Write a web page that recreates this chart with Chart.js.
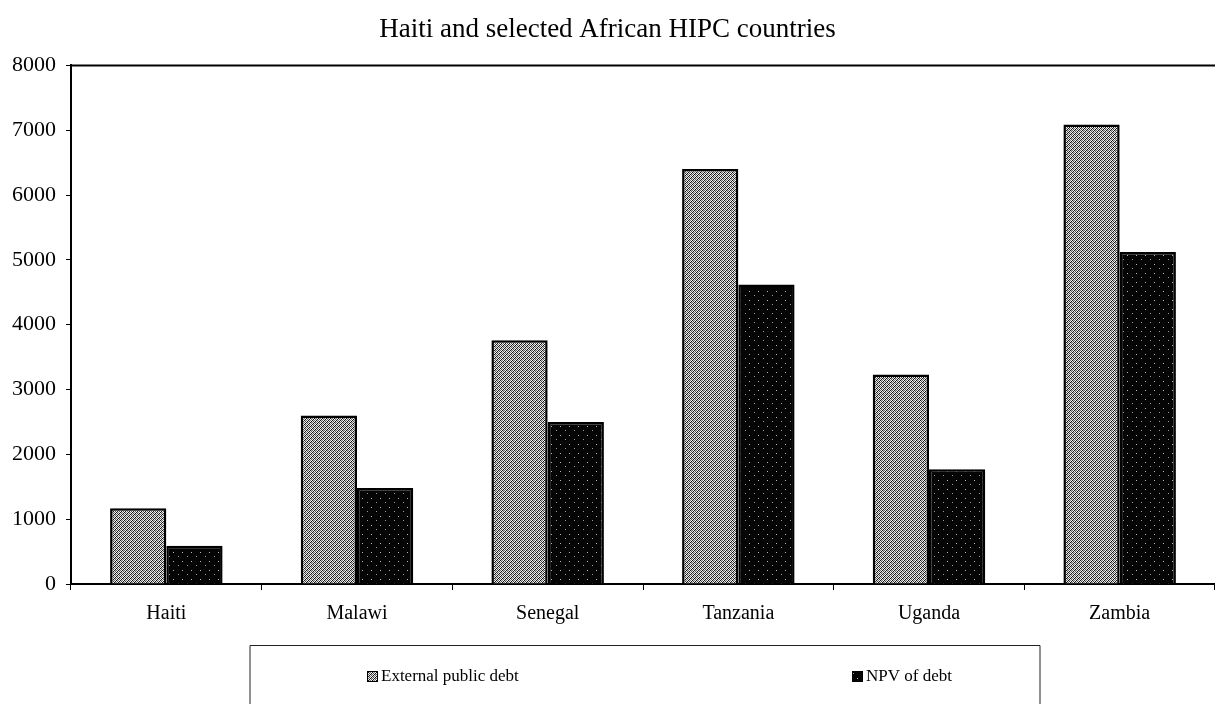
<!DOCTYPE html>
<html>
<head>
<meta charset="utf-8">
<script src="https://cdn.jsdelivr.net/npm/chart.js@4.4.1/dist/chart.umd.min.js"></script>
<style>
  html, body { margin: 0; padding: 0; background: #ffffff; }
  #wrap { position: relative; width: 1215px; height: 704px; }
</style>
</head>
<body>
<div id="wrap"><canvas id="chart" width="1215" height="704"></canvas></div>
<script>
// Debt stock, millions of US$
const countries = ['Haiti', 'Malawi', 'Senegal', 'Tanzania', 'Uganda', 'Zambia'];
const externalPublicDebt = [1170, 2600, 3760, 6400, 3230, 7090];
const npvOfDebt = [590, 1480, 2500, 4620, 1770, 5120];
const yTicks = [0, 1000, 2000, 3000, 4000, 5000, 6000, 7000, 8000];
const titleText = 'Haiti and selected African HIPC countries';
const seriesNames = ['External public debt', 'NPV of debt'];

const SERIF = '"Liberation Serif", "Times New Roman", serif';

// Halftone-style fills for the two series
function makePattern(size, bg, dots) {
  const c = document.createElement('canvas');
  c.width = size; c.height = size;
  const g = c.getContext('2d');
  g.fillStyle = bg;
  g.fillRect(0, 0, size, size);
  dots.forEach(([x, y, col]) => { g.fillStyle = col; g.fillRect(x, y, 1, 1); });
  return g.createPattern(c, 'repeat');
}
const ctx = document.getElementById('chart').getContext('2d');
const greyDither = makePattern(4, '#f4f4f4', [
  [0, 0, '#111'], [2, 0, '#777'], [1, 1, '#444'], [3, 1, '#111'],
  [0, 2, '#666'], [2, 2, '#111'], [1, 3, '#111'], [3, 3, '#555'],
  [1, 0, '#ccc'], [3, 2, '#bbb']
]);
const blackSpeck = makePattern(9, '#050505', [
  [2, 3, '#bbb'], [7, 7, '#999']
]);

// Plot frame top line and the boxed legend under the axis
const framePlugin = {
  id: 'frame',
  afterDraw(chart) {
    const { ctx, chartArea } = chart;
    ctx.save();
    ctx.strokeStyle = '#000';
    ctx.lineWidth = 2;
    ctx.beginPath();
    ctx.moveTo(chartArea.left, chartArea.top);
    ctx.lineTo(chartArea.right, chartArea.top);
    ctx.stroke();

    // legend box
    ctx.lineWidth = 1;
    ctx.strokeStyle = '#222';
    ctx.beginPath();
    ctx.moveTo(250, 720); ctx.lineTo(250, 645.5); ctx.lineTo(1040, 645.5); ctx.lineTo(1040, 720);
    ctx.stroke();

    const items = [
      { x: 367, ds: chart.data.datasets[0] },
      { x: 852, ds: chart.data.datasets[1] }
    ];
    ctx.font = '17px ' + SERIF;
    ctx.textBaseline = 'middle';
    items.forEach(it => {
      ctx.fillStyle = it.ds.backgroundColor;
      ctx.fillRect(it.x, 671, 11, 11);
      ctx.strokeStyle = '#000';
      ctx.strokeRect(it.x + 0.5, 671.5, 10, 10);
      ctx.fillStyle = '#000';
      ctx.fillText(it.ds.label, it.x + 14, 677);
    });
    ctx.restore();
  }
};

new Chart(ctx, {
  type: 'bar',
  data: {
    labels: countries,
    datasets: [
      {
        label: seriesNames[0],
        data: externalPublicDebt,
        backgroundColor: greyDither,
        borderColor: '#000',
        borderWidth: 2.5,
        borderSkipped: 'bottom',
        categoryPercentage: 0.59,
        barPercentage: 1.0
      },
      {
        label: seriesNames[1],
        data: npvOfDebt,
        backgroundColor: blackSpeck,
        borderColor: '#000',
        borderWidth: 2.5,
        borderSkipped: 'bottom',
        categoryPercentage: 0.59,
        barPercentage: 1.0
      }
    ]
  },
  options: {
    responsive: false,
    animation: false,
    layout: { padding: { top: 0, right: 0, bottom: 0, left: 0 } },
    plugins: {
      legend: { display: false },
      tooltip: { enabled: false },
      title: {
        display: true,
        text: titleText,
        color: '#000',
        font: { family: SERIF, size: 27, weight: 'normal', lineHeight: 1.2 },
        padding: { top: 14, bottom: 19 }
      }
    },
    scales: {
      x: {
        offset: true,
        border: { display: true, color: '#000', width: 2 },
        grid: { display: true, drawOnChartArea: false, drawTicks: true, tickLength: 6, color: '#000', offset: true },
        ticks: { color: '#000', padding: 12, font: { family: SERIF, size: 20 }, maxRotation: 0 },
        afterFit(scale) { scale.height = 120; }
      },
      y: {
        min: 0,
        max: 8000,
        afterBuildTicks(scale) { scale.ticks = yTicks.map(v => ({ value: v })); },
        border: { display: true, color: '#000', width: 2 },
        grid: { display: true, drawOnChartArea: false, drawTicks: true, tickLength: 5, color: '#000' },
        ticks: {
          color: '#000',
          padding: 10,
          font: { family: SERIF, size: 22 },
          callback: v => String(v)
        },
        afterFit(scale) { scale.width = 71; }
      }
    }
  },
  plugins: [framePlugin]
});
</script>
</body>
</html>
